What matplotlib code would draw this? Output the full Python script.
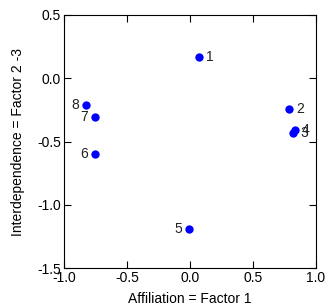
import matplotlib
matplotlib.use("Agg")
import matplotlib.pyplot as plt

plt.rcParams['font.family'] = ['Liberation Sans', 'DejaVu Sans']

labels = ["1", "2", "3", "4", "5", "6", "7", "8"]
x_vals = [0.074, 0.788, 0.82, 0.83, -0.008, -0.751, -0.751, -0.825]
y_vals = [0.165, -0.243, -0.435, -0.409, -1.19, -0.60, -0.304, -0.21]
sides = ["r", "r", "r", "r", "l", "l", "l", "l"]

fig = plt.figure(figsize=(3.30, 3.08), dpi=100)
ax = fig.add_axes([64/330, 1-268/308, (316-64)/330, (268-15)/308])
ax.scatter(x_vals, y_vals, s=36, color="#0000ff", zorder=3, linewidths=0)
for lab, xv, yv, sd in zip(labels, x_vals, y_vals, sides):
    if sd == "r":
        ax.annotate(lab, (xv, yv), xytext=(5, 0), textcoords="offset points",
                    ha="left", va="center", fontsize=10, color="#222222")
    else:
        ax.annotate(lab, (xv, yv), xytext=(-5, 0), textcoords="offset points",
                    ha="right", va="center", fontsize=10, color="#222222")

ax.set_xlim(-1.0, 1.0)
ax.set_ylim(-1.5, 0.5)
ax.set_xticks([-1.0, -0.5, 0.0, 0.5, 1.0])
ax.set_yticks([-1.5, -1.0, -0.5, 0.0, 0.5])
ax.set_xticklabels(["-1.0", "-0.5", "0.0", "0.5", "1.0"])
ax.set_yticklabels(["-1.5", "-1.0", "-0.5", "0.0", "0.5"])
ax.tick_params(direction="in", top=True, right=True, length=5, labelsize=10, pad=2)
for sp in ax.spines.values():
    sp.set_linewidth(0.8)
ax.set_xlabel("Affiliation = Factor 1", fontsize=10, labelpad=5)
ax.set_ylabel("Interdependence = Factor 2 -3", fontsize=10, labelpad=9)

fig.savefig("out.png", dpi=100)
